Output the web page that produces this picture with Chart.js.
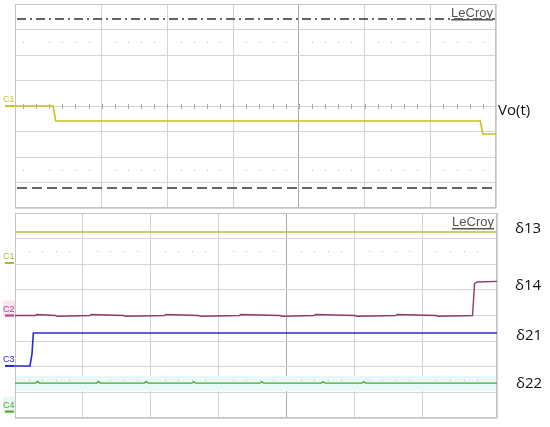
<!DOCTYPE html>
<html>
<head>
<meta charset="utf-8">
<script src="https://cdn.jsdelivr.net/npm/chart.js@4.4.1/dist/chart.umd.min.js"></script>
<style>
  body { margin: 0; width: 550px; height: 427px; background: #fff; position: relative; overflow: hidden; }
  .wrap { position: absolute; left: 0; width: 550px; }
  #topWrap { top: 0; height: 212px; }
  #botWrap { top: 212px; height: 215px; }
</style>
</head>
<body>
<div class="wrap" id="topWrap"><canvas id="topChart"></canvas></div>
<div class="wrap" id="botWrap"><canvas id="botChart"></canvas></div>
<script>
// ---- data (divisions) ----
// top scope: Vo(t)
const voX = [-0.44, 0.26, 0.30, 6.76, 6.80, 7.0];
const voY = [0, 0, -0.59, -0.59, -1.1, -1.1];

// bottom scope: gate signals
const d13X = [0, 7.09];
const d13Y = [3.26, 3.26];

const d14X = [-0.12, 0.3, 0.32, 0.6, 0.62, 1.1, 1.12, 1.6, 1.62, 2.2, 2.22, 2.7, 2.72, 3.3, 3.32, 3.9, 3.92, 4.4, 4.42, 5.0, 5.02, 5.6, 5.62, 6.2, 6.22, 6.73, 6.76, 6.80, 7.09];
const d14Y = [0, 0, 0.04, 0, -0.03, 0, 0.04, 0, -0.03, 0, 0.04, 0, -0.03, 0, 0.04, 0, -0.03, 0, 0.04, 0, -0.03, 0, 0.04, 0, -0.03, 0, 1.25, 1.31, 1.33];

const d21X = [-0.12, 0.22, 0.25, 0.27, 7.09];
const d21Y = [-1.97, -1.97, -1.5, -0.68, -0.68];

const d22X = [0, 0.3, 0.33, 0.36, 0.9, 1.2, 1.23, 1.26, 1.9, 1.93, 1.96, 2.6, 2.63, 2.66, 3.6, 3.63, 3.66, 4.5, 4.53, 4.56, 5.1, 5.13, 5.16, 7.09];
const d22Y = [-2.64, -2.64, -2.57, -2.64, -2.64, -2.64, -2.58, -2.64, -2.64, -2.58, -2.64, -2.64, -2.59, -2.64, -2.64, -2.59, -2.64, -2.64, -2.59, -2.64, -2.64, -2.59, -2.64, -2.64];

const gridColor = '#d4d4d4';
const centerColor = '#a8a8a8';

function pts(xs, ys) {
    return xs.map((x, i) => ({ x: x, y: ys[i] }));
}

// draws scope frame, dotted rows, center ticks, labels
const scopePlugin = {
    id: 'scope',
    beforeDatasetsDraw(chart, args, opts) {
        const c = chart.ctx, a = chart.chartArea;
        const xs = chart.scales.x, ys = chart.scales.y;
        c.save();
        // bands
        (opts.bands || []).forEach(b => {
            c.fillStyle = b.color;
            c.fillRect(a.left, ys.getPixelForValue(b.hi), a.right - a.left, ys.getPixelForValue(b.lo) - ys.getPixelForValue(b.hi));
        });
        // minor dots on rows +-2.5
        c.fillStyle = '#b8b8b8';
        const x0 = Math.ceil(xs.min * 5) / 5;
        [2.5, -2.5].forEach(r => {
            const py = Math.round(ys.getPixelForValue(r));
            for (let v = x0; v <= xs.max; v += 0.2) {
                if (Math.abs(v - Math.round(v)) < 0.01) continue;
                c.fillRect(Math.round(xs.getPixelForValue(v)), py, 1, 1);
            }
        });
        // ticks on center row
        if (opts.centerTicks) {
            c.strokeStyle = centerColor;
            c.lineWidth = 1;
            const py = Math.round(ys.getPixelForValue(0)) + 0.5;
            for (let v = x0; v <= xs.max; v += 0.2) {
                const px = Math.round(xs.getPixelForValue(v)) + 0.5;
                c.beginPath();
                c.moveTo(px, py - 2.5);
                c.lineTo(px, py + 2.5);
                c.stroke();
            }
        }
        // reference lines (cursors)
        (opts.refs || []).forEach(r => {
            c.strokeStyle = '#333';
            c.lineWidth = 1.5;
            c.setLineDash(r.dash);
            const py = Math.round(ys.getPixelForValue(r.y));
            c.beginPath();
            c.moveTo(a.left + 2, py);
            c.lineTo(a.right, py);
            c.stroke();
        });
        c.setLineDash([]);
        // frame
        c.strokeStyle = '#c4c4c4';
        c.lineWidth = 1;
        c.strokeRect(a.left + 0.5, a.top + 0.5, a.right - a.left - 1, a.bottom - a.top - 1);
        c.restore();
    },
    afterDraw(chart, args, opts) {
        const c = chart.ctx, a = chart.chartArea;
        const ys = chart.scales.y;
        c.save();
        // LeCroy logo
        c.font = '13px "Liberation Sans", Arial, sans-serif';
        c.fillStyle = '#555';
        c.textAlign = 'right';
        c.textBaseline = 'alphabetic';
        const lx = a.right - 3, ly = a.top + 13;
        c.fillText('LeCroy', lx, ly);
        const w = c.measureText('LeCroy').width;
        c.fillRect(lx - w, ly + 2, w, 1.5);
        // channel labels on the left
        c.font = '9px "Liberation Sans", Arial, sans-serif';
        c.textAlign = 'left';
        (opts.chans || []).forEach(ch => {
            const py = ys.getPixelForValue(ch.y);
            if (ch.bg) {
                c.fillStyle = ch.bg;
                c.fillRect(3, py - 15, 12, 17);
            }
            c.fillStyle = ch.color;
            c.fillText(ch.name, 3, py - 4);
            c.fillRect(5, py - 1, 9, 2);
        });
        // signal names on the right
        c.font = '15px "Open Sans", "Liberation Sans", sans-serif';
        c.fillStyle = '#111';
        c.textBaseline = 'middle';
        (opts.names || []).forEach(n => {
            c.fillText(n.text, n.x, ys.getPixelForValue(n.y));
        });
        c.restore();
    }
};

function gridOpts() {
    return {
        drawTicks: false,
        lineWidth: 1,
        color: ctx => (ctx.tick && Math.abs(ctx.tick.value - 4) < 0.01 && ctx.scale.axis === 'x') ? centerColor : gridColor
    };
}

function makeChart(id, datasets, xmin, xmax, pad, pluginOpts) {
    return new Chart(document.getElementById(id), {
        type: 'line',
        data: { datasets: datasets },
        options: {
            responsive: true,
            maintainAspectRatio: false,
            animation: false,
            layout: { padding: pad },
            plugins: { legend: { display: false }, tooltip: { enabled: false }, scope: pluginOpts },
            elements: { point: { radius: 0 }, line: { tension: 0, borderWidth: 1.6 } },
            scales: {
                x: {
                    type: 'linear', min: xmin, max: xmax,
                    ticks: { display: false, stepSize: 1 },
                    grid: gridOpts(),
                    border: { display: false }
                },
                y: {
                    type: 'linear', min: -4, max: 4,
                    ticks: { display: false, stepSize: 1 },
                    grid: gridOpts(),
                    border: { display: false }
                }
            }
        },
        plugins: [scopePlugin]
    });
}

makeChart('topChart', [
    { data: pts(voX, voY), borderColor: '#c8c020', clip: false }
], -0.32, 7.0, { left: 15, right: 54, top: 4, bottom: 4 }, {
    centerTicks: true,
    refs: [{ y: 3.41, dash: [9, 4, 2, 4] }, { y: -3.22, dash: [10, 5] }],
    chans: [{ name: 'C1', y: 0, color: '#c8c020' }],
    names: [{ text: 'Vo(t)', x: 498, y: -0.2 }]
});

makeChart('botChart', [
    { data: pts(d13X, d13Y), borderColor: '#b4c42c' },
    { data: pts(d14X, d14Y), borderColor: '#8e3a6c', borderWidth: 1.4, clip: false },
    { data: pts(d21X, d21Y), borderColor: '#2a2ad4', clip: false },
    { data: pts(d22X, d22Y), borderColor: '#4ca62e', borderWidth: 1.4 }
], 0, 7.09, { left: 15, right: 53, top: 1, bottom: 9 }, {
    bands: [{ lo: -2.95, hi: -2.35, color: '#e9f9f9' }],
    chans: [
        { name: 'C1', y: 2.05, color: '#b4b42c' },
        { name: 'C2', y: 0, color: '#b0408a', bg: '#fbe4f0' },
        { name: 'C3', y: -1.97, color: '#2a2ad4' },
        { name: 'C4', y: -3.75, color: '#4ca62e', bg: '#e8f8ee' }
    ],
    names: [
        { text: 'δ13', x: 515, y: 3.4 },
        { text: 'δ14', x: 515, y: 1.15 },
        { text: 'δ21', x: 516, y: -0.8 },
        { text: 'δ22', x: 516, y: -2.65 }
    ]
});
</script>
</body>
</html>
